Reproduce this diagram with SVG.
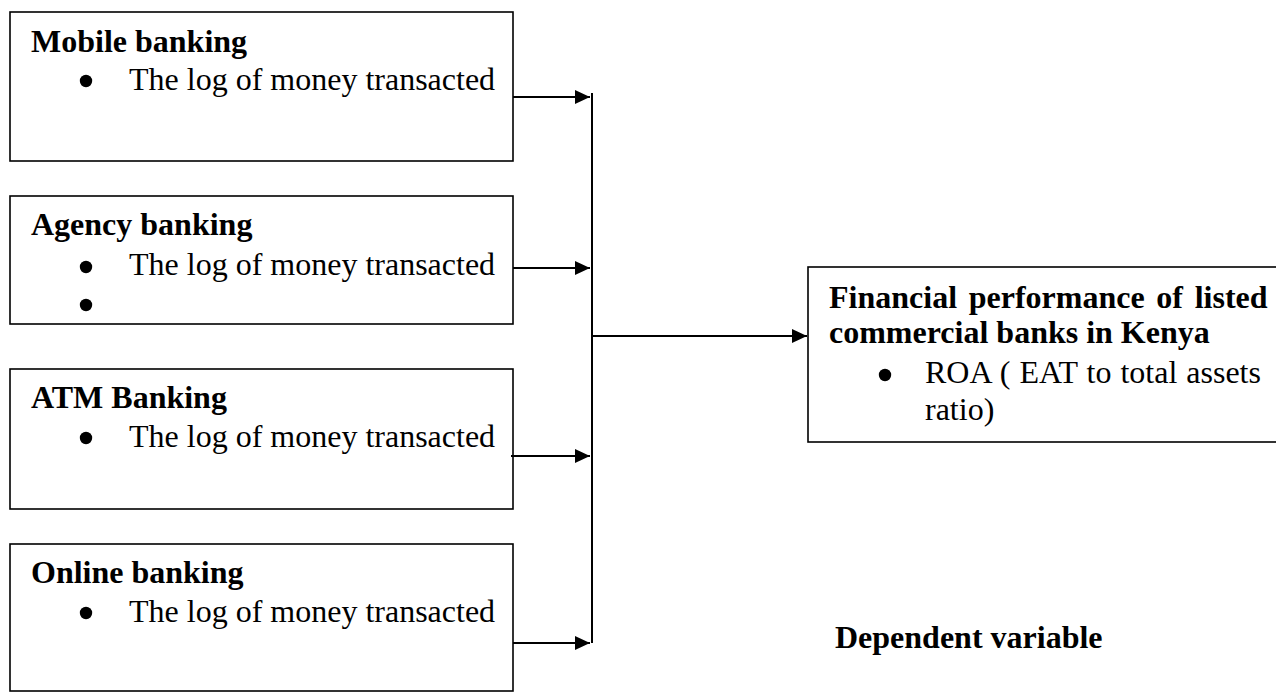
<svg xmlns="http://www.w3.org/2000/svg" width="1276" height="692" viewBox="0 0 1276 692">
  <style>
    .box { fill: #ffffff; stroke: #000000; stroke-width: 1.6; }
    .title { font-family: "Liberation Serif", "Times New Roman", serif; font-size: 32px; font-weight: bold; fill: #000000; }
    .item { font-family: "Liberation Serif", "Times New Roman", serif; font-size: 32px; fill: #000000; }
    .dot { fill: #000000; }
    .conn { stroke: #000000; stroke-width: 2; fill: none; }
    .arrow { stroke: #000000; stroke-width: 2; fill: none; marker-end: url(#ah); }
  </style>
  <defs>
    <marker id="ah" viewBox="0 0 15 14" refX="15" refY="7" markerWidth="15" markerHeight="14" markerUnits="userSpaceOnUse" orient="auto">
      <path d="M0,0 L15,7 L0,14 z" fill="#000000"/>
    </marker>
  </defs>
  <rect width="1276" height="692" fill="#ffffff"/>

  <g id="mobile-banking">
    <rect class="box" x="10" y="12" width="503" height="149"/>
    <text class="title" x="31" y="52">Mobile banking</text>
    <circle class="dot" cx="86" cy="81" r="6.2"/>
    <text class="item" x="129" y="90">The log of money transacted</text>
  </g>

  <g id="agency-banking">
    <rect class="box" x="10" y="196" width="503" height="128"/>
    <text class="title" x="31" y="235">Agency banking</text>
    <circle class="dot" cx="86" cy="267" r="6.2"/>
    <text class="item" x="129" y="275">The log of money transacted</text>
    <circle class="dot" cx="86" cy="305" r="6.2"/>
  </g>

  <g id="atm-banking">
    <rect class="box" x="10" y="369" width="503" height="140"/>
    <text class="title" x="31" y="408">ATM Banking</text>
    <circle class="dot" cx="86" cy="438" r="6.2"/>
    <text class="item" x="129" y="447">The log of money transacted</text>
  </g>

  <g id="online-banking">
    <rect class="box" x="10" y="544" width="503" height="147"/>
    <text class="title" x="31" y="583">Online banking</text>
    <circle class="dot" cx="86" cy="613" r="6.2"/>
    <text class="item" x="129" y="622">The log of money transacted</text>
  </g>

  <g id="financial-performance">
    <rect class="box" x="808" y="267" width="470" height="175"/>
    <text class="title" x="829" y="308" word-spacing="3.7">Financial performance of listed</text>
    <text class="title" x="829" y="343">commercial banks in Kenya</text>
    <circle class="dot" cx="885" cy="375" r="6.2"/>
    <text class="item" x="925" y="383" word-spacing="1">ROA ( EAT to total assets</text>
    <text class="item" x="925" y="420">ratio)</text>
  </g>

  <g id="dependent-label">
    <text class="title" x="835" y="648">Dependent variable</text>
  </g>

  <g id="connectors">
    <line class="conn" x1="592" y1="93" x2="592" y2="643"/>
    <line class="arrow" x1="513" y1="97" x2="590" y2="97"/>
    <line class="arrow" x1="513" y1="268" x2="590" y2="268"/>
    <line class="arrow" x1="511" y1="456" x2="590" y2="456"/>
    <line class="arrow" x1="513" y1="643" x2="590" y2="643"/>
    <line class="arrow" x1="592" y1="336" x2="807" y2="336"/>
  </g>
</svg>
